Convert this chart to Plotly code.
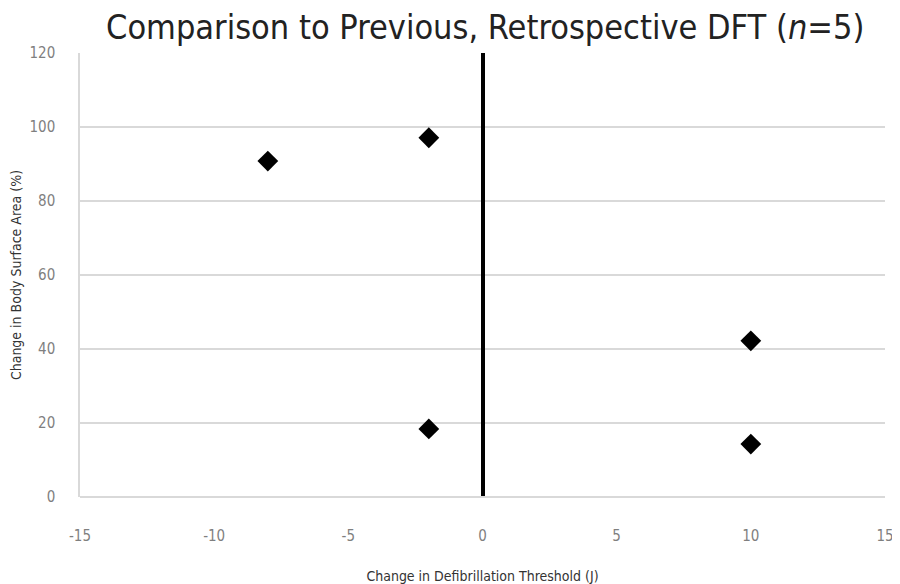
import plotly.graph_objects as go

# change in DFT (J) vs change in body surface area (%)
dft_change = [-8, -2, -2, 10, 10]
bsa_change = [90.8, 97.1, 18.4, 42.2, 14.3]

x_ticks = [-15, -10, -5, 0, 5, 10, 15]
x_labels = ["-15", "-10", "-5", "0", "5", "10", "15"]
y_ticks = [0, 20, 40, 60, 80, 100, 120]

font_name = "Liberation Sans Narrow, DejaVu Sans Condensed, Open Sans, sans-serif"

fig = go.Figure(data=[
    go.Scatter(
        x=dft_change,
        y=bsa_change,
        mode="markers",
        marker=dict(symbol="diamond", size=16, color="black"),
        showlegend=False,
    )
])

# page body adds 8px offset, so figure is 892x576
fig.update_layout(
    width=892,
    height=576,
    paper_bgcolor="white",
    plot_bgcolor="white",
    font=dict(family=font_name, color="#7f7f7f", size=15),
    title=dict(
        text="Comparison to Previous, Retrospective DFT (<i>n</i>=5)",
        x=0.535,
        xanchor="center",
        y=0.966,
        yanchor="middle",
        font=dict(size=34, color="#222222", family=font_name),
    ),
    margin=dict(l=72, r=15, t=45, b=87),
    xaxis=dict(
        range=[-15, 15],
        tickvals=x_ticks,
        ticktext=x_labels,
        automargin=False,
        showgrid=False,
        zeroline=True,
        zerolinecolor="black",
        zerolinewidth=4,
        showline=False,
        ticks="",
        ticklabelstandoff=28,
        tickfont=dict(size=15, color="#7f7f7f"),
        title=dict(text="Change in Defibrillation Threshold (J)",
                   font=dict(size=14, color="#333333"), standoff=28),
    ),
    yaxis=dict(
        range=[0, 120],
        tickvals=y_ticks,
        automargin=False,
        showgrid=True,
        gridcolor="#d9d9d9",
        gridwidth=1.5,
        zeroline=True,
        zerolinecolor="#d9d9d9",
        zerolinewidth=2,
        showline=True,
        linecolor="#d9d9d9",
        linewidth=1.5,
        ticks="",
        ticklabelstandoff=20,
        tickfont=dict(size=15, color="#7f7f7f"),
        title=dict(text="Change in Body Surface Area (%)",
                   font=dict(size=14, color="#333333"), standoff=15),
    ),
)

fig.write_html("out.html")
